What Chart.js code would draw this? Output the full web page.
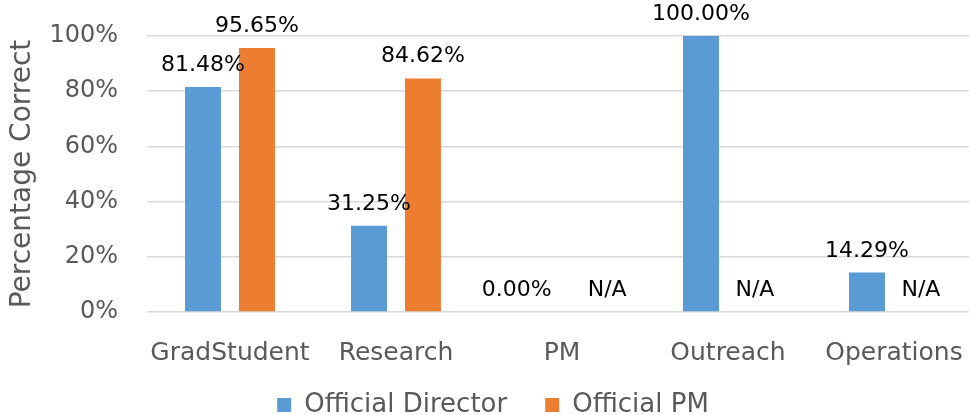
<!DOCTYPE html>
<html>
<head>
<meta charset="utf-8">
<script src="https://cdn.jsdelivr.net/npm/chart.js@4.4.1/dist/chart.umd.min.js"></script>
<style>
  html, body { margin: 0; padding: 0; background: #fff; overflow: hidden; }
  #wrap { width: 989px; height: 415px; }
</style>
</head>
<body>
<div id="wrap"><canvas id="accuracy_chart"></canvas></div>
<script>
var categories = ['GradStudent', 'Research', 'PM', 'Outreach', 'Operations'];
var directorValues = [81.48, 31.25, 0, 100, 14.29];
var pmValues = [95.65, 84.62, null, null, null];
var yTicks = [0, 20, 40, 60, 80, 100];

Chart.defaults.font.family = '"DejaVu Sans", sans-serif';
Chart.defaults.color = '#595959';

// value labels over the bars, N/A where a series has no value
var valueLabels = {
  id: 'valueLabels',
  afterLayout: function(chart) {
    // pull the legend row up a bit, its padding also sets the item gap
    chart.legend.top -= 14;
    chart.legend.bottom -= 14;
  },
  afterDatasetsDraw: function(chart) {
    var ctx = chart.ctx;
    var yScale = chart.scales.y;
    ctx.save();
    ctx.font = '22px "DejaVu Sans"';
    ctx.fillStyle = '#000000';
    ctx.textAlign = 'center';
    ctx.textBaseline = 'alphabetic';
    var metaA = chart.getDatasetMeta(0);
    var metaB = chart.getDatasetMeta(1);
    categories.forEach(function(cat, i) {
      var items = [metaA, metaB].map(function(meta, di) {
        var v = chart.data.datasets[di].data[i];
        var text = v === null ? 'N/A' : v.toFixed(2) + '%';
        var top = v === null ? yScale.getPixelForValue(0) : meta.data[i].y;
        return { text: text, x: meta.data[i].x, y: top - 16, w: ctx.measureText(text).width };
      });
      // keep labels on the same line from running into each other
      var a = items[0], b = items[1];
      if (Math.abs(a.y - b.y) < 20) {
        var overlap = (a.x + a.w / 2 + 36) - (b.x - b.w / 2);
        if (overlap > 0) {
          a.x -= overlap / 2;
          b.x += overlap / 2;
        }
      }
      items.forEach(function(it) { ctx.fillText(it.text, it.x, it.y); });
    });
    ctx.restore();
  }
};

var ac = document.getElementById('accuracy_chart');
var accuracyChart = new Chart(ac, {
  type: 'bar',
  data: {
    labels: categories,
    datasets: [{
      label: 'Official Director',
      data: directorValues,
      backgroundColor: '#5B9BD5'
    }, {
      label: 'Official PM',
      data: pmValues,
      backgroundColor: '#ED7D31'
    }]
  },
  options: {
    responsive: true,
    maintainAspectRatio: false,
    animation: false,
    devicePixelRatio: 1,
    categoryPercentage: 0.65,
    barPercentage: 0.667,
    layout: { padding: { top: 36, right: 3, left: 0, bottom: -27 } },
    plugins: {
      tooltip: { enabled: false },
      legend: {
        position: 'bottom',
        labels: {
          boxWidth: 14,
          boxHeight: 14,
          padding: 38,
          color: '#595959',
          font: { size: 26 }
        }
      }
    },
    scales: {
      x: {
        grid: { display: false, drawTicks: false },
        border: { display: false },
        ticks: { padding: 26, color: '#595959', font: { size: 25 } },
        afterFit: function(scale) { scale.height = 56; }
      },
      y: {
        min: 0,
        max: 100,
        afterBuildTicks: function(scale) {
          scale.ticks = yTicks.map(function(v) { return { value: v }; });
        },
        afterFit: function(scale) {
          scale.width = 147;
          scale.paddingTop = 0;
          scale.paddingBottom = 0;
        },
        grid: { color: '#d9d9d9', lineWidth: 1.5, drawTicks: false },
        border: { display: false },
        ticks: {
          padding: 29,
          color: '#595959',
          font: { size: 24 },
          callback: function(v) { return v + '%'; }
        },
        title: {
          display: true,
          text: 'Percentage Correct',
          color: '#595959',
          font: { size: 28 },
          padding: { top: 6, bottom: 0 }
        }
      }
    }
  },
  plugins: [valueLabels]
});
</script>
</body>
</html>
